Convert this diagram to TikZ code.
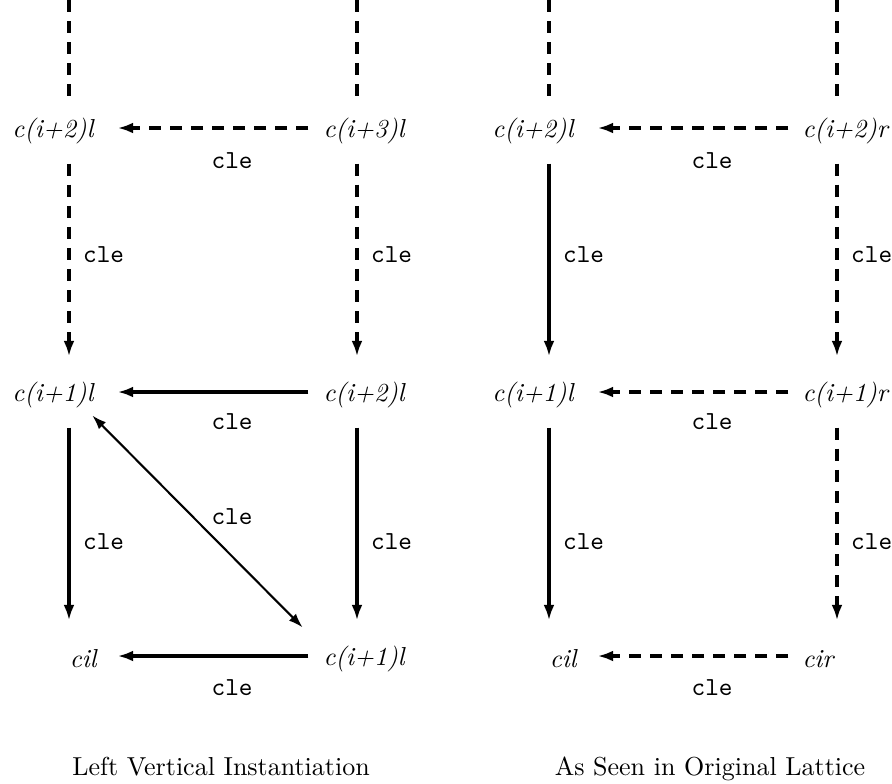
\documentclass[tikz,border=0pt]{standalone}
\usetikzlibrary{arrows.meta, positioning}

\begin{document}
\begin{tikzpicture}[x=0.3846pt, y=-0.3846pt,
    vx/.style={inner sep=0pt, minimum width=37pt, minimum height=27pt},
    lbl/.style={font=\itshape, inner sep=0pt},
    lab/.style={font=\ttfamily},
    solidarr/.style={-{Latex[length=6pt, width=4.2pt]}, line width=1.25pt},
    dasharr/.style={solidarr, dash pattern=on 4.7pt off 3.4pt},
    stub/.style={line width=1.25pt, dash pattern=on 4.7pt off 3.4pt},
    diagarr/.style={{Latex[length=5.5pt, width=3.8pt]}-{Latex[length=5.5pt, width=3.8pt]}, line width=0.8pt}]

  \useasboundingbox (0,0) rectangle (892,783);

  % lattice points of the left panel
  \node[vx] (a2) at (69,128) {};
  \node[vx] (a1) at (69,392) {};
  \node[vx] (a0) at (69,656) {};
  \node[vx] (b3) at (357,128) {};
  \node[vx] (b2) at (357,392) {};
  \node[vx] (b1) at (357,656) {};

  % lattice points of the right panel
  \node[vx] (c2) at (549,128) {};
  \node[vx] (c1) at (549,392) {};
  \node[vx] (c0) at (549,656) {};
  \node[vx] (d2) at (837,128) {};
  \node[vx] (d1) at (837,392) {};
  \node[vx] (d0) at (837,656) {};

  % point labels
  \node[lbl, anchor=east] (ta2) at (94,131) {c(i+2)l};
  \node[lbl, anchor=east] (ta1) at (94,395) {c(i+1)l};
  \node[lbl, anchor=east] (ta0) at (97,659) {cil};
  \node[lbl, anchor=west] (tb3) at (323,131) {c(i+3)l};
  \node[lbl, anchor=west] (tb2) at (323,395) {c(i+2)l};
  \node[lbl, anchor=west] (tb1) at (323,659) {c(i+1)l};
  \node[lbl, anchor=east] (tc2) at (574,131) {c(i+2)l};
  \node[lbl, anchor=east] (tc1) at (574,395) {c(i+1)l};
  \node[lbl, anchor=east] (tc0) at (577,659) {cil};
  \node[lbl, anchor=west] (td2) at (802,131) {c(i+2)r};
  \node[lbl, anchor=west] (td1) at (802,395) {c(i+1)r};
  \node[lbl, anchor=west] (td0) at (802,659) {cir};

  % dashed stubs coming in from above
  \foreach \x/\n in {69/a2, 357/b3, 549/c2, 837/d2} {
    \coordinate (top-\n) at (\x,0);
    \draw[stub, shorten >=-4.6pt] (top-\n) -- (\n);
  }

  % left vertical instantiation
  \draw[dasharr] (b3) -- (a2) node[lab, pos=0.4, below=5.5pt] {cle};
  \draw[dasharr] (a2) -- (a1) node[lab, pos=0.47, right=1.5pt] {cle};
  \draw[dasharr] (b3) -- (b2) node[lab, pos=0.47, right=1.5pt] {cle};
  \draw[solidarr] (b2) -- (a1) node[lab, pos=0.4, below=4.5pt] {cle};
  \draw[solidarr] (a1) -- (a0) node[lab, pos=0.59, right=1.5pt] {cle};
  \draw[solidarr] (b2) -- (b1) node[lab, pos=0.59, right=1.5pt] {cle};
  \draw[solidarr] (b1) -- (a0) node[lab, pos=0.4, below=5pt] {cle};
  \draw[diagarr, shorten <=12.7pt, shorten >=15.5pt] (a1.center) -- ([xshift=-10pt]b1.center)
    node[lab, midway, xshift=12.3pt, yshift=2.7pt] {cle};

  % as seen in original lattice
  \draw[dasharr] (d2) -- (c2) node[lab, pos=0.4, below=5.5pt] {cle};
  \draw[solidarr] (c2) -- (c1) node[lab, pos=0.47, right=1.5pt] {cle};
  \draw[dasharr] (d2) -- (d1) node[lab, pos=0.47, right=1.5pt] {cle};
  \draw[dasharr] (d1) -- (c1) node[lab, pos=0.4, below=4.5pt] {cle};
  \draw[solidarr] (c1) -- (c0) node[lab, pos=0.59, right=1.5pt] {cle};
  \draw[dasharr] (d1) -- (d0) node[lab, pos=0.59, right=1.5pt] {cle};
  \draw[dasharr] (d0) -- (c0) node[lab, pos=0.4, below=5pt] {cle};

  % captions
  \node[anchor=base] (capL) at (221,775) {Left Vertical Instantiation};
  \node[anchor=base] (capR) at (710,775) {As Seen in Original Lattice};
\end{tikzpicture}
\end{document}
